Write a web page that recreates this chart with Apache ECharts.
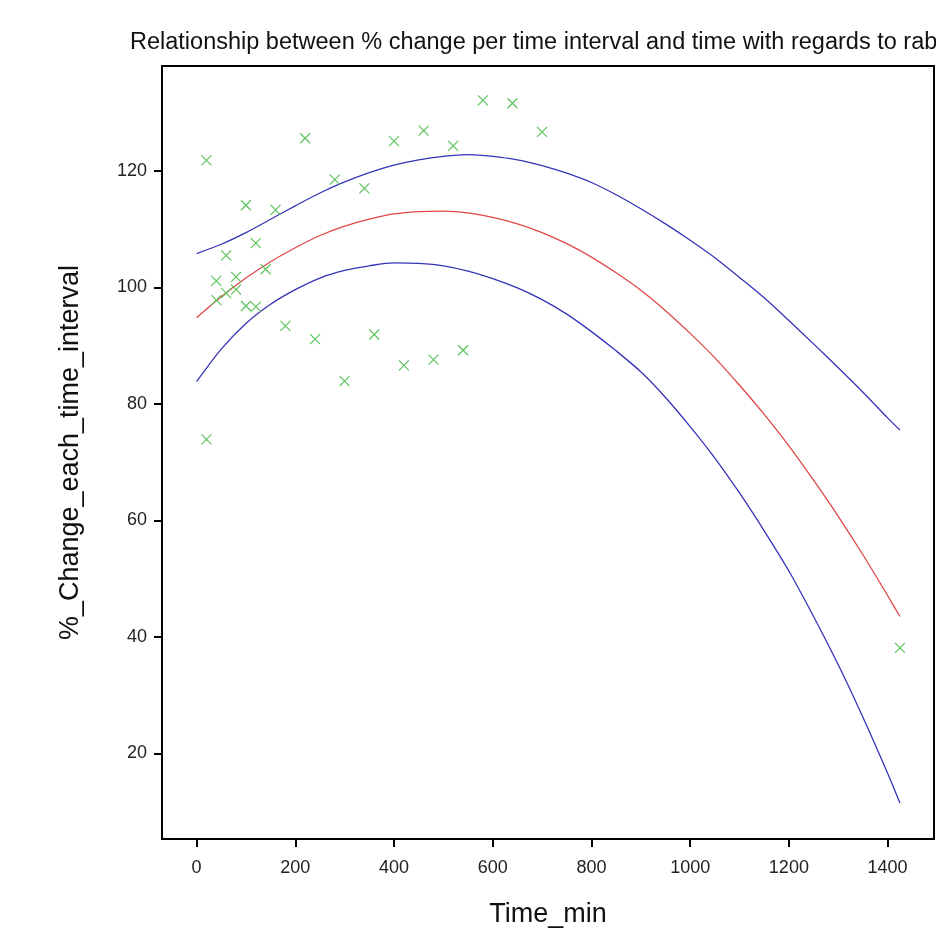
<!DOCTYPE html>
<html>
<head>
<meta charset="utf-8">
<script src="https://cdn.jsdelivr.net/npm/echarts@6/dist/echarts.min.js"></script>
<style>
  html, body { margin: 0; padding: 0; background: #ffffff; }
  #chart { width: 936px; height: 933px; }
</style>
</head>
<body>
<div id="chart"></div>
<script>
// Measured % change per time interval at each sampling time (minutes)
const obsTime = [20, 20, 40, 40, 60, 60, 80, 80, 100, 100, 120, 120, 140, 160, 180,
                 220, 240, 280, 300, 340, 360, 400, 420, 460, 480, 520, 540, 580, 640, 700, 1425];
const obsChange = [121.8, 73.9, 101.1, 97.8, 105.5, 99.0, 101.8, 99.6, 114.1, 96.8, 107.6, 96.7, 103.1, 113.3, 93.4,
                   125.6, 91.1, 118.5, 83.9, 117.0, 91.9, 125.1, 86.6, 126.9, 87.6, 124.3, 89.2, 132.1, 131.6, 126.7, 38.1];

// Quadratic fit and its confidence band, sampled along time
const fitTime = [0, 50, 100, 150, 200, 250, 300, 350, 400, 450, 500, 550, 600, 650, 700,
                 750, 800, 850, 900, 950, 1000, 1050, 1100, 1150, 1200, 1250, 1300, 1350, 1400, 1425];
const fitValue = [94.8, 98.4, 101.6, 104.4, 106.8, 108.9, 110.5, 111.7, 112.6, 113.0, 113.1, 112.8, 112.0, 110.9, 109.4,
                  107.5, 105.2, 102.5, 99.5, 96.0, 92.1, 87.9, 83.2, 78.2, 72.8, 66.9, 60.7, 54.1, 47.1, 43.5];
const bandUpper = [105.8, 107.4, 109.4, 111.7, 114.0, 116.2, 118.1, 119.7, 121.0, 121.9, 122.5, 122.8, 122.5, 121.9, 120.9,
                   119.6, 118.0, 115.9, 113.5, 110.9, 108.1, 105.1, 101.7, 98.2, 94.3, 90.3, 86.2, 82.0, 77.6, 75.5];
const bandLower = [83.8, 89.4, 93.8, 97.1, 99.6, 101.6, 102.9, 103.7, 104.2, 104.1, 103.7, 102.8, 101.5, 99.9, 97.9,
                   95.4, 92.4, 89.1, 85.5, 81.1, 76.1, 70.7, 64.7, 58.2, 51.3, 43.5, 35.2, 26.2, 16.6, 11.5];

// Axis tick values
const xTicks = [0, 200, 400, 600, 800, 1000, 1200, 1400];
const yTicks = [20, 40, 60, 80, 100, 120];

const pairs = (xs, ys) => xs.map((x, i) => [x, ys[i]]);

const FONT = 'Liberation Sans, Arial, sans-serif';
const BLUE = '#3434b8';
const RED = '#e04848';
const GREEN = '#5cc45c';

const chart = echarts.init(document.getElementById('chart'), null, { renderer: 'canvas' });

chart.setOption({
  animation: false,
  backgroundColor: '#ffffff',
  title: {
    text: 'Relationship between % change per time interval and time with regards to rabbits',
    left: 130,
    top: 31,
    padding: 0,
    textStyle: { fontFamily: FONT, fontSize: 23.5, fontWeight: 'normal', color: '#111111' }
  },
  grid: {
    left: 162, top: 66, right: 2, bottom: 93,
    show: true,
    borderColor: '#000000',
    borderWidth: 2,
    backgroundColor: '#ffffff'
  },
  xAxis: {
    type: 'value',
    min: -70,
    max: 1494,
    name: 'Time_min',
    nameLocation: 'middle',
    nameGap: 62,
    nameTextStyle: { fontFamily: FONT, fontSize: 27, color: '#111111' },
    axisLine: { show: true, onZero: false, lineStyle: { color: '#000000', width: 2 } },
    axisTick: { show: true, length: 8, customValues: xTicks, lineStyle: { color: '#000000', width: 2 } },
    axisLabel: {
      customValues: xTicks, margin: 20, fontFamily: FONT, fontSize: 18, color: '#222222',
      formatter: v => String(v)
    },
    splitLine: { show: false }
  },
  yAxis: {
    type: 'value',
    min: 5.3,
    max: 138,
    name: '%_Change_each_time_interval',
    nameLocation: 'middle',
    nameGap: 78,
    nameTextStyle: { fontFamily: FONT, fontSize: 27, color: '#111111' },
    axisLine: { show: true, onZero: false, lineStyle: { color: '#000000', width: 2 } },
    axisTick: { show: true, length: 8, customValues: yTicks, lineStyle: { color: '#000000', width: 2 } },
    axisLabel: {
      customValues: yTicks, margin: 15, fontFamily: FONT, fontSize: 18, color: '#222222',
      formatter: v => String(v)
    },
    splitLine: { show: false }
  },
  series: [
    {
      name: 'Upper',
      type: 'line',
      data: pairs(fitTime, bandUpper),
      smooth: 0.3,
      showSymbol: false,
      lineStyle: { color: BLUE, width: 1.3 },
      z: 2
    },
    {
      name: 'Fit',
      type: 'line',
      data: pairs(fitTime, fitValue),
      smooth: 0.3,
      showSymbol: false,
      lineStyle: { color: RED, width: 1.3 },
      z: 2
    },
    {
      name: 'Lower',
      type: 'line',
      data: pairs(fitTime, bandLower),
      smooth: 0.3,
      showSymbol: false,
      lineStyle: { color: BLUE, width: 1.3 },
      z: 2
    },
    {
      name: 'Observed',
      type: 'scatter',
      data: pairs(obsTime, obsChange),
      symbol: 'path://M0,0L10,10M10,0L0,10',
      symbolSize: 10,
      itemStyle: { color: 'rgba(0,0,0,0)', borderColor: GREEN, borderWidth: 1.2, opacity: 1 },
      z: 3
    }
  ]
});
</script>
</body>
</html>
